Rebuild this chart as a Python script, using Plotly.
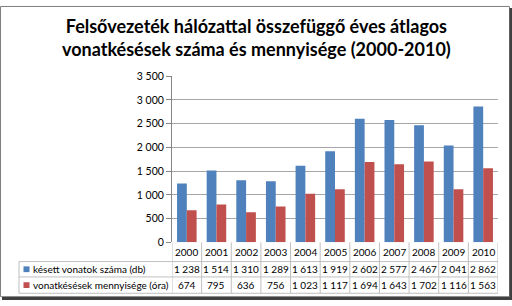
import plotly.graph_objects as go

years = ["2000", "2001", "2002", "2003", "2004", "2005", "2006", "2007", "2008", "2009", "2010"]
kesett_vonatok = [1238, 1514, 1310, 1289, 1613, 1919, 2602, 2577, 2467, 2041, 2862]
kesesek_mennyisege = [674, 795, 636, 756, 1023, 1117, 1694, 1643, 1702, 1116, 1563]
series_names = ["késett vonatok száma (db)", "vonatkésések mennyisége (óra)"]
colors = ["#4F81BD", "#C0504D"]
title_text = "Felsővezeték hálózattal összefüggő éves átlagos<br>vonatkésések száma és mennyisége (2000-2010)"

W, H = 512, 306
def px(x):
    return x / W
def py(y):
    return 1 - y / H

FONT = "Lato"
fig = go.Figure()
for name, vals, c in zip(series_names, [kesett_vonatok, kesesek_mennyisege], colors):
    fig.add_trace(go.Bar(x=years, y=vals, name=name, marker=dict(color=c, line=dict(width=0))))

plot_l, plot_r, plot_t, plot_b = 172, 498, 73, 246
row_lines = [266, 282, 299]
table_l = 19

shapes = []
grid = "#A6A6A6"
for yl in row_lines:
    shapes.append(dict(type="line", xref="paper", yref="paper", x0=px(table_l), x1=px(plot_r),
                       y0=py(yl), y1=py(yl), line=dict(color="#BFBFBF", width=1)))
for i in range(len(years) + 1):
    shapes.append(dict(type="line", xref="x", yref="paper", x0=i - 0.5, x1=i - 0.5,
                       y0=py(plot_b), y1=py(row_lines[-1]), line=dict(color="#BFBFBF", width=1)))
shapes.append(dict(type="line", xref="paper", yref="paper", x0=px(table_l), x1=px(table_l),
                   y0=py(row_lines[0]), y1=py(row_lines[-1]), line=dict(color="#BFBFBF", width=1)))
key_rows = [274, 290.5]
for c, yc in zip(colors, key_rows):
    shapes.append(dict(type="rect", xref="paper", yref="paper", x0=px(23.5), x1=px(29.5),
                       y0=py(yc + 3), y1=py(yc - 3), fillcolor=c, line=dict(width=0)))
shapes.append(dict(type="rect", xref="paper", yref="paper", x0=px(0.5), x1=px(509.5),
                   y0=py(302.5), y1=py(0.5), line=dict(color="#7F7F7F", width=1)))
shapes.append(dict(type="line", xref="paper", yref="paper", x0=px(511), x1=px(511),
                   y0=py(306), y1=py(2), line=dict(color="#404040", width=3)))
shapes.append(dict(type="line", xref="paper", yref="paper", x0=px(2), x1=px(512),
                   y0=py(304.5), y1=py(304.5), line=dict(color="#404040", width=3)))

annotations = [dict(text="<b>" + title_text + "</b>", xref="paper", yref="paper", x=0.5, y=py(7),
                    xanchor="center", yanchor="top", showarrow=False,
                    font=dict(family=FONT, size=18, color="#000000"))]
tf = dict(family=FONT, size=10, color="#000000")
def fmt(v):
    return f"{v:,}".replace(",", " ")
for i, yr in enumerate(years):
    annotations.append(dict(text=yr, x=i, xref="x", yref="paper", y=py(256.5), showarrow=False,
                            xanchor="center", yanchor="middle", font=tf))
    for vals, yc in zip([kesett_vonatok, kesesek_mennyisege], key_rows):
        annotations.append(dict(text=fmt(vals[i]), x=i, xref="x", yref="paper", y=py(yc), showarrow=False,
                                xanchor="center", yanchor="middle", font=tf))
for name, yc in zip(series_names, key_rows):
    annotations.append(dict(text=name, xref="paper", yref="paper", x=px(31), y=py(yc), showarrow=False,
                            xanchor="left", yanchor="middle", font=tf))

fig.update_layout(
    width=W, height=H, margin=dict(l=0, r=0, t=0, b=0),
    paper_bgcolor="white", plot_bgcolor="white",
    barmode="group", bargap=0.34, bargroupgap=0,
    showlegend=False, separators=", ",
    font=dict(family=FONT, size=10, color="#000000"),
    xaxis=dict(type="category", domain=[px(plot_l), px(plot_r)], showticklabels=False, showgrid=False,
               showline=False, ticks="", range=[-0.5, len(years) - 0.5]),
    yaxis=dict(domain=[py(plot_b), py(plot_t)], range=[0, 3500], dtick=500, tickformat=",d",
               showgrid=True, gridcolor=grid, gridwidth=1, showline=True, linecolor="#868686",
               ticks="outside", ticklen=5, tickcolor="#868686", zeroline=False,
               tickfont=dict(family=FONT, size=10.5, color="#000000")),
    shapes=shapes, annotations=annotations,
)
fig.write_html("out.html")
